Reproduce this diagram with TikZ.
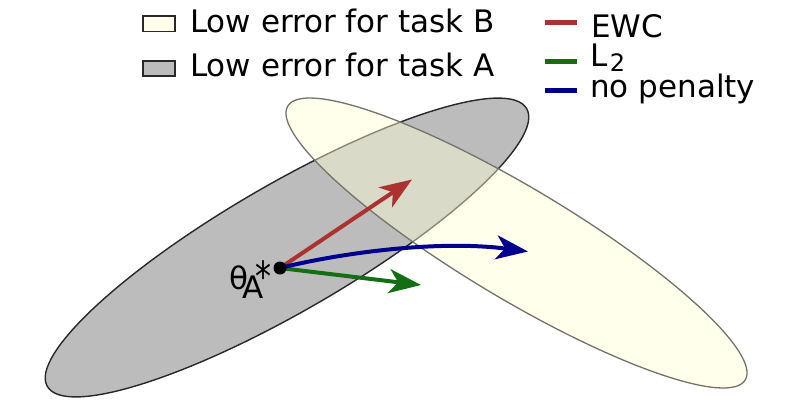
\documentclass[tikz,border=0pt]{standalone}
\usepackage{fontspec}
\setmainfont{DejaVu Sans}
\usetikzlibrary{arrows.meta}
\definecolor{ewcred}{RGB}{172,50,50}
\definecolor{ltgreen}{RGB}{20,110,20}
\definecolor{npblue}{RGB}{0,0,140}
\definecolor{greyfill}{RGB}{188,188,188}
\definecolor{yelfill}{RGB}{255,255,215}
\definecolor{yelbox}{RGB}{255,255,236}
\definecolor{yeledge}{RGB}{115,115,105}
\definecolor{greyedge}{RGB}{40,40,40}
\begin{document}
\begin{tikzpicture}[x=1pt,y=-1pt,
  lbl/.style={inner sep=0pt, anchor=base west, font=\fontsize{31pt}{31pt}\selectfont},
  legline/.style={line width=5pt},
  move/.style={line width=4pt, -{Stealth[length=32pt,width=24pt,inset=9pt]}},
  legbox/.style={draw=greyedge, line width=1.2pt}]
\useasboundingbox (0,0) rectangle (800,418);
\fill[white] (0,0) rectangle (800,418);
% regions
\draw[greyedge, line width=1.4pt, fill=greyfill, rotate around={30.1:(287,247.5)}] (287,247.5) ellipse [x radius=277, y radius=63.5];
\fill[yelfill, fill opacity=0.45, rotate around={-30.9:(516.5,243)}] (516.5,243) ellipse [x radius=266.6, y radius=55.5];
\draw[yeledge, line width=1.3pt, rotate around={-30.9:(516.5,243)}] (516.5,243) ellipse [x radius=266.6, y radius=55.5];
% legend
\draw[legbox, fill=yelbox] (143,16) rectangle (175,31.5);
\draw[legbox, fill=greyfill] (143,61) rectangle (175,76);
\node[lbl] (tB) at (190,32) {Low error for task B};
\node[lbl] (tA) at (190,76.5) {Low error for task A};
\draw[legline, ewcred] (545,22.5) -- (577,22.5);
\draw[legline, ltgreen] (545,61) -- (577,61);
\draw[legline, npblue] (545,90) -- (577,90);
\node[lbl] (lewc) at (591,37) {EWC};
\node[lbl] (ll2) at (590.3,66) {L\kern2pt\smash{\raisebox{-5pt}{\fontsize{24pt}{24pt}\selectfont 2}}};
\node[lbl] (lnp) at (590,97) {no penalty};
% moves
\coordinate (o) at (280,268);
\coordinate (ewcend) at (412,179.5);
\coordinate (l2end) at (421,285);
\coordinate (npend) at (528,251.5);
\draw[move, ewcred] (o) -- (ewcend);
\draw[move, ltgreen] (o) -- (l2end);
\draw[move, npblue] (o) .. controls (345,252) and (440,240) .. (npend);
\node[circle, fill=black, inner sep=0pt, minimum size=13pt] (dot) at (o) {};
% label
\node[lbl] (th) at (228.8,289) {\rlap{θ}\hspace{13.7pt}\rlap{\raisebox{-9pt}{A}}\hspace{12.8pt}\raisebox{-2.3pt}{\fontsize{32pt}{32pt}\selectfont\scalebox{1}[1.3]{*}}};
\end{tikzpicture}
\end{document}
